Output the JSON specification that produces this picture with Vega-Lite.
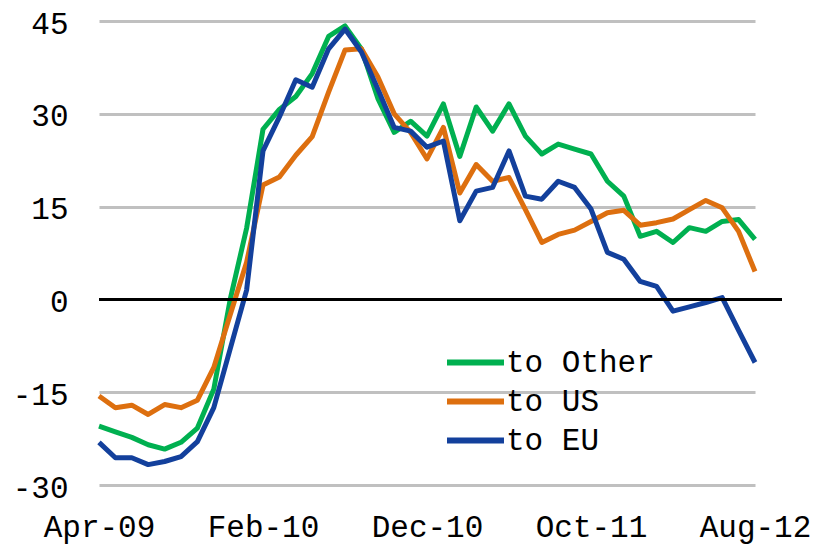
{
  "$schema": "https://vega.github.io/schema/vega-lite/v6.json",
  "width": 683,
  "height": 464,
  "autosize": {"type": "none"},
  "padding": {"left": 99, "top": 21, "right": 32, "bottom": 68},
  "background": "white",
  "config": {"view": {"stroke": null}, "font": "Liberation Mono"},
  "data": {"values": [
    {"month":"Apr-09","series":"to Other","value":-20.5},
    {"month":"May-09","series":"to Other","value":-21.4},
    {"month":"Jun-09","series":"to Other","value":-22.3},
    {"month":"Jul-09","series":"to Other","value":-23.5},
    {"month":"Aug-09","series":"to Other","value":-24.2},
    {"month":"Sep-09","series":"to Other","value":-23.1},
    {"month":"Oct-09","series":"to Other","value":-20.8},
    {"month":"Nov-09","series":"to Other","value":-14.5},
    {"month":"Dec-09","series":"to Other","value":0.0},
    {"month":"Jan-10","series":"to Other","value":11.5},
    {"month":"Feb-10","series":"to Other","value":27.5},
    {"month":"Mar-10","series":"to Other","value":30.7},
    {"month":"Apr-10","series":"to Other","value":32.8},
    {"month":"May-10","series":"to Other","value":36.5},
    {"month":"Jun-10","series":"to Other","value":42.5},
    {"month":"Jul-10","series":"to Other","value":44.2},
    {"month":"Aug-10","series":"to Other","value":40.5},
    {"month":"Sep-10","series":"to Other","value":32.5},
    {"month":"Oct-10","series":"to Other","value":27.0},
    {"month":"Nov-10","series":"to Other","value":28.8},
    {"month":"Dec-10","series":"to Other","value":26.4},
    {"month":"Jan-11","series":"to Other","value":31.6},
    {"month":"Feb-11","series":"to Other","value":23.1},
    {"month":"Mar-11","series":"to Other","value":31.1},
    {"month":"Apr-11","series":"to Other","value":27.2},
    {"month":"May-11","series":"to Other","value":31.6},
    {"month":"Jun-11","series":"to Other","value":26.4},
    {"month":"Jul-11","series":"to Other","value":23.5},
    {"month":"Aug-11","series":"to Other","value":25.1},
    {"month":"Sep-11","series":"to Other","value":24.3},
    {"month":"Oct-11","series":"to Other","value":23.5},
    {"month":"Nov-11","series":"to Other","value":19.1},
    {"month":"Dec-11","series":"to Other","value":16.7},
    {"month":"Jan-12","series":"to Other","value":10.2},
    {"month":"Feb-12","series":"to Other","value":11.0},
    {"month":"Mar-12","series":"to Other","value":9.2},
    {"month":"Apr-12","series":"to Other","value":11.6},
    {"month":"May-12","series":"to Other","value":11.0},
    {"month":"Jun-12","series":"to Other","value":12.6},
    {"month":"Jul-12","series":"to Other","value":12.9},
    {"month":"Aug-12","series":"to Other","value":9.7},
    {"month":"Apr-09","series":"to US","value":-15.6},
    {"month":"May-09","series":"to US","value":-17.5},
    {"month":"Jun-09","series":"to US","value":-17.1},
    {"month":"Jul-09","series":"to US","value":-18.6},
    {"month":"Aug-09","series":"to US","value":-17.0},
    {"month":"Sep-09","series":"to US","value":-17.5},
    {"month":"Oct-09","series":"to US","value":-16.3},
    {"month":"Nov-09","series":"to US","value":-11.0},
    {"month":"Dec-09","series":"to US","value":-2.5},
    {"month":"Jan-10","series":"to US","value":6.0},
    {"month":"Feb-10","series":"to US","value":18.5},
    {"month":"Mar-10","series":"to US","value":19.8},
    {"month":"Apr-10","series":"to US","value":23.3},
    {"month":"May-10","series":"to US","value":26.3},
    {"month":"Jun-10","series":"to US","value":33.5},
    {"month":"Jul-10","series":"to US","value":40.3},
    {"month":"Aug-10","series":"to US","value":40.5},
    {"month":"Sep-10","series":"to US","value":36.0},
    {"month":"Oct-10","series":"to US","value":30.0},
    {"month":"Nov-10","series":"to US","value":27.0},
    {"month":"Dec-10","series":"to US","value":22.7},
    {"month":"Jan-11","series":"to US","value":27.8},
    {"month":"Feb-11","series":"to US","value":17.2},
    {"month":"Mar-11","series":"to US","value":21.8},
    {"month":"Apr-11","series":"to US","value":19.1},
    {"month":"May-11","series":"to US","value":19.7},
    {"month":"Jun-11","series":"to US","value":14.5},
    {"month":"Jul-11","series":"to US","value":9.2},
    {"month":"Aug-11","series":"to US","value":10.5},
    {"month":"Sep-11","series":"to US","value":11.2},
    {"month":"Oct-11","series":"to US","value":12.6},
    {"month":"Nov-11","series":"to US","value":14.0},
    {"month":"Dec-11","series":"to US","value":14.4},
    {"month":"Jan-12","series":"to US","value":12.0},
    {"month":"Feb-12","series":"to US","value":12.4},
    {"month":"Mar-12","series":"to US","value":13.0},
    {"month":"Apr-12","series":"to US","value":14.5},
    {"month":"May-12","series":"to US","value":16.0},
    {"month":"Jun-12","series":"to US","value":14.8},
    {"month":"Jul-12","series":"to US","value":11.0},
    {"month":"Aug-12","series":"to US","value":4.5},
    {"month":"Apr-09","series":"to EU","value":-23.1},
    {"month":"May-09","series":"to EU","value":-25.6},
    {"month":"Jun-09","series":"to EU","value":-25.6},
    {"month":"Jul-09","series":"to EU","value":-26.7},
    {"month":"Aug-09","series":"to EU","value":-26.2},
    {"month":"Sep-09","series":"to EU","value":-25.4},
    {"month":"Oct-09","series":"to EU","value":-23.0},
    {"month":"Nov-09","series":"to EU","value":-17.5},
    {"month":"Dec-09","series":"to EU","value":-8.0},
    {"month":"Jan-10","series":"to EU","value":1.5},
    {"month":"Feb-10","series":"to EU","value":24.0},
    {"month":"Mar-10","series":"to EU","value":29.5},
    {"month":"Apr-10","series":"to EU","value":35.5},
    {"month":"May-10","series":"to EU","value":34.3},
    {"month":"Jun-10","series":"to EU","value":40.5},
    {"month":"Jul-10","series":"to EU","value":43.7},
    {"month":"Aug-10","series":"to EU","value":40.0},
    {"month":"Sep-10","series":"to EU","value":34.0},
    {"month":"Oct-10","series":"to EU","value":27.8},
    {"month":"Nov-10","series":"to EU","value":27.2},
    {"month":"Dec-10","series":"to EU","value":24.6},
    {"month":"Jan-11","series":"to EU","value":25.6},
    {"month":"Feb-11","series":"to EU","value":12.7},
    {"month":"Mar-11","series":"to EU","value":17.5},
    {"month":"Apr-11","series":"to EU","value":18.1},
    {"month":"May-11","series":"to EU","value":24.0},
    {"month":"Jun-11","series":"to EU","value":16.7},
    {"month":"Jul-11","series":"to EU","value":16.2},
    {"month":"Aug-11","series":"to EU","value":19.1},
    {"month":"Sep-11","series":"to EU","value":18.1},
    {"month":"Oct-11","series":"to EU","value":14.6},
    {"month":"Nov-11","series":"to EU","value":7.6},
    {"month":"Dec-11","series":"to EU","value":6.5},
    {"month":"Jan-12","series":"to EU","value":2.9},
    {"month":"Feb-12","series":"to EU","value":2.1},
    {"month":"Mar-12","series":"to EU","value":-1.9},
    {"month":"Apr-12","series":"to EU","value":-1.2},
    {"month":"May-12","series":"to EU","value":-0.5},
    {"month":"Jun-12","series":"to EU","value":0.3},
    {"month":"Jul-12","series":"to EU","value":-5.0},
    {"month":"Aug-12","series":"to EU","value":-10.2}
  ]},
  "layer": [
    {
      "mark": {"type": "line", "strokeWidth": 5, "strokeJoin": "round"},
      "encoding": {
        "x": {
          "field": "month", "type": "ordinal", "sort": null,
          "scale": {"type": "point", "range": [0, 656], "padding": 0},
          "axis": {
            "title": null, "domain": false, "ticks": false, "grid": false, "labelAngle": 0,
            "values": ["Apr-09", "Feb-10", "Dec-10", "Oct-11", "Aug-12"],
            "labelFont": "Liberation Mono", "labelFontSize": 31, "labelColor": "black",
            "labelPadding": 27, "labelOverlap": false, "labelBound": false, "labelFlush": false
          }
        },
        "y": {
          "field": "value", "type": "quantitative",
          "scale": {"domain": [-30, 45], "nice": false, "zero": false},
          "axis": {
            "title": null, "domain": false, "ticks": false, "grid": true,
            "gridColor": "#C0C0C0", "gridWidth": 3,
            "values": [-30, -15, 0, 15, 30, 45],
            "labelFont": "Liberation Mono", "labelFontSize": 31, "labelColor": "black",
            "labelPadding": 31, "labelOffset": 3,
            "labelExpr": "replace(datum.label, '\u2212', '-')"
          }
        },
        "color": {
          "field": "series", "type": "nominal",
          "scale": {"domain": ["to Other", "to US", "to EU"], "range": ["#00B050", "#DD6F0F", "#13409C"]},
          "legend": {
            "title": null, "orient": "none", "legendX": 359, "legendY": 324,
            "padding": 0, "rowPadding": 6,
            "symbolType": "M-2,0H2", "symbolSize": 812, "symbolStrokeWidth": 6,
            "labelFont": "Liberation Mono", "labelFontSize": 31, "labelColor": "black",
            "labelOffset": 13, "labelLimit": 400
          }
        }
      }
    },
    {
      "mark": {"type": "rule", "color": "black", "strokeWidth": 3},
      "encoding": {"y": {"datum": 0}}
    }
  ]
}
